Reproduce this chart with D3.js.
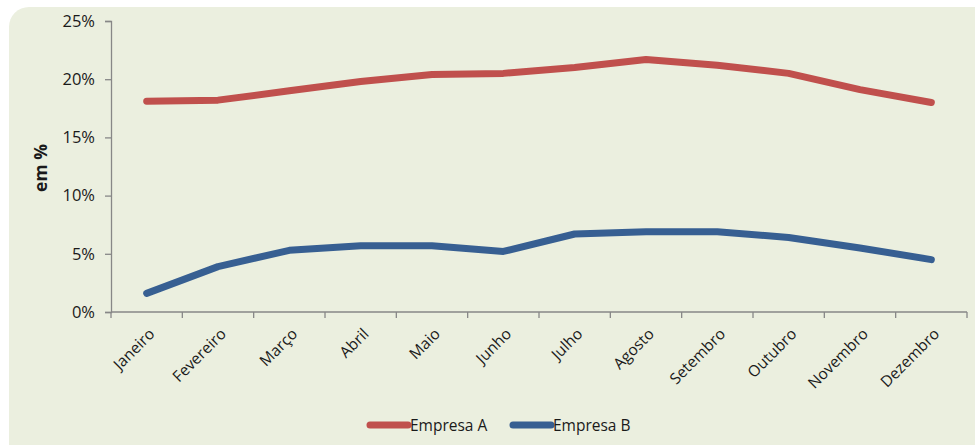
<!DOCTYPE html>
<html><head><meta charset="utf-8">
<script src="https://cdn.jsdelivr.net/npm/d3@7"></script>
<style>body{margin:0;background:#fff;}svg{display:block;}text{font-family:"Open Sans","Noto Sans",sans-serif;fill:#1a1a1a;}</style>
</head><body>
<svg id="c" width="975" height="445"></svg>
<script>
const months = ["Janeiro","Fevereiro","Março","Abril","Maio","Junho","Julho","Agosto","Setembro","Outubro","Novembro","Dezembro"];
const empresaA = [18.1, 18.2, 19.0, 19.8, 20.4, 20.5, 21.0, 21.7, 21.2, 20.5, 19.1, 18.0];
const empresaB = [1.6, 3.9, 5.3, 5.7, 5.7, 5.2, 6.7, 6.9, 6.9, 6.4, 5.5, 4.5];
const yTicks = [0, 5, 10, 15, 20, 25];
const seriesNames = ["Empresa A", "Empresa B"];
const colors = ["#C0504D", "#375F92"];

const svg = d3.select("#c");
svg.append("rect").attr("x",9).attr("y",7).attr("width",1020).attr("height",500).attr("rx",20).attr("fill","#EBEFDF");

const x0 = 111, x1 = 967, yTop = 21, yBot = 312;
const x = d3.scaleBand().domain(months).range([x0, x1]).padding(0);
const y = d3.scaleLinear().domain([0, 25]).range([yBot, yTop]);

// y axis
const ya = svg.append("g").attr("transform", `translate(${x0},0)`)
  .call(d3.axisLeft(y).tickValues(yTicks).tickSize(6).tickPadding(10).tickFormat(d => d + "%"));
ya.select(".domain").attr("stroke","#878787").attr("stroke-width",1.3);
ya.selectAll(".tick line").attr("stroke","#878787").attr("stroke-width",1.3);
ya.selectAll("text").style("font-size","16.5px").attr("fill","#1a1a1a");

// x axis
const xa = svg.append("g").attr("transform", `translate(0,${yBot})`);
xa.append("line").attr("x1",x0).attr("x2",x1).attr("stroke","#878787").attr("stroke-width",1.3);
const bounds = months.map(m => x(m)).concat([x1]);
xa.selectAll("line.tk").data(bounds).join("line").attr("class","tk")
  .attr("x1",d=>d).attr("x2",d=>d).attr("y1",0).attr("y2",6).attr("stroke","#878787").attr("stroke-width",1.3);
xa.selectAll("text.lbl").data(months).join("text").attr("class","lbl")
  .attr("text-anchor","end")
  .attr("transform", d => `translate(${x(d) + x.bandwidth()/2 + 9},${23}) rotate(-45)`)
  .style("font-size","15.5px").text(d => d);

// y title
svg.append("text").attr("transform","translate(47,168) rotate(-90)").attr("text-anchor","middle")
  .style("font-size","17.5px").style("font-weight","bold").text("em %");

// lines
const line = d3.line().x((d,i) => x(months[i]) + x.bandwidth()/2).y(d => y(d));
[empresaA, empresaB].forEach((s, k) => {
  svg.append("path").datum(s).attr("d", line).attr("fill","none")
    .attr("stroke", colors[k]).attr("stroke-width",7).attr("stroke-linecap","round").attr("stroke-linejoin","round");
});

// legend
const leg = [{x:368, tx:410}, {x:511, tx:553}];
seriesNames.forEach((n,k) => {
  svg.append("line").attr("x1",leg[k].x+2).attr("x2",leg[k].x+40).attr("y1",425).attr("y2",425)
    .attr("stroke",colors[k]).attr("stroke-width",7).attr("stroke-linecap","round");
  svg.append("text").attr("x",leg[k].tx).attr("y",431).style("font-size","15.5px").text(n);
});
</script>
</body></html>
